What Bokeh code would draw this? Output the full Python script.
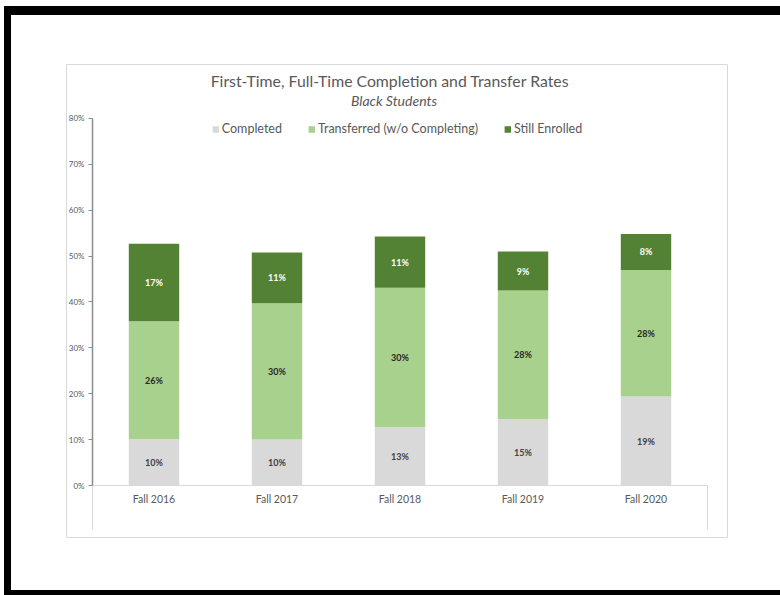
import numpy as np
from bokeh.plotting import figure
from bokeh.models import (Range1d, FixedTicker, Legend, LegendItem, Label, ColumnDataSource)
from bokeh.core.properties import value
from bokeh.embed import file_html
from bokeh.resources import INLINE

# ---------------- data ----------------
categories = ["Fall 2016", "Fall 2017", "Fall 2018", "Fall 2019", "Fall 2020"]
completed = [10.1, 10.0, 12.7, 14.5, 19.4]
transferred = [25.7, 29.7, 30.4, 28.0, 27.6]
still_enrolled = [16.9, 11.1, 11.2, 8.5, 7.8]
completed_labels = ["10%", "10%", "13%", "15%", "19%"]
transferred_labels = ["26%", "30%", "30%", "28%", "28%"]
still_labels = ["17%", "11%", "11%", "9%", "8%"]
series_names = ["Completed", "Transferred (w/o Completing)", "Still Enrolled"]
y_ticks = [0, 10, 20, 30, 40, 50, 60, 70, 80]
title_text = "First-Time, Full-Time Completion and Transfer Rates"
subtitle_text = "Black Students"

# ---------------- style ----------------
FONT = "Lato"
TXT = "#595959"
colors = ["#D9D9D9", "#A9D18E", "#548235"]
label_colors = ["#404040", "#262626", "#FFFFFF"]

n = len(categories)
x = np.arange(n) + 0.5
src = ColumnDataSource(dict(x=x, completed=completed, transferred=transferred,
                            still=still_enrolled))

# frame = the light grey chart box; axes are pinned inside it
p = figure(width=769, height=575, output_backend="svg", toolbar_location=None,
           x_range=Range1d(-0.2114, n + 0.1626), y_range=Range1d(-11.335, 91.77),
           min_border_left=55, min_border_right=60, min_border_top=49,
           min_border_bottom=67)
p.title = None
p.outline_line_color = "#D9D9D9"
p.outline_line_width = 1
p.xgrid.visible = False
p.ygrid.visible = False
p.background_fill_color = "white"
p.border_fill_color = "white"
p.styles = {"box-sizing": "content-box", "margin-top": "6px", "margin-left": "4px",
            "border-top": "9px solid black", "border-left": "7px solid black",
            "border-bottom": "5px solid black", "border-right": "0px"}

renderers = p.vbar_stack(["completed", "transferred", "still"], x="x", width=0.41,
                         color=colors, line_color=None, source=src)

# data labels, centered in each segment
bottoms = np.zeros(n)
for vals, labs, col in zip([completed, transferred, still_enrolled],
                           [completed_labels, transferred_labels, still_labels],
                           label_colors):
    vals = np.array(vals)
    p.text(x=x, y=bottoms + vals / 2, text=labs, text_align="center",
           text_baseline="middle", text_font=value(FONT), text_font_size="9px",
           text_font_style="bold", text_color=col)
    bottoms = bottoms + vals

# category separators below the axis (outer edges of the category axis)
p.segment(x0=[0, n], y0=[0, 0], x1=[0, n], y1=[-9.6, -9.6],
          line_color="#D9D9D9", line_width=1)

# y axis
ya = p.yaxis[0]
ya.fixed_location = 0
ya.bounds = (y_ticks[0], y_ticks[-1])
ya.ticker = FixedTicker(ticks=y_ticks)
ya.major_label_overrides = {t: f"{t}%" for t in y_ticks}
ya.major_label_text_font = FONT
ya.major_label_text_font_size = "8px"
ya.major_label_text_color = TXT
ya.axis_line_color = "#8C8C8C"
ya.axis_line_width = 1.5
ya.major_tick_line_color = "#8C8C8C"
ya.major_tick_out = 4
ya.major_tick_in = 0
ya.minor_tick_line_color = None
ya.major_label_standoff = 4

# x axis
xa = p.xaxis[0]
xa.fixed_location = 0
xa.bounds = (0, n)
xa.ticker = FixedTicker(ticks=list(x))
xa.major_label_overrides = {float(xi): c for xi, c in zip(x, categories)}
xa.major_label_text_font = FONT
xa.major_label_text_font_size = "10.5px"
xa.major_label_text_color = TXT
xa.axis_line_color = "#D9D9D9"
xa.major_tick_line_color = None
xa.major_tick_out = 0
xa.major_tick_in = 0
xa.minor_tick_line_color = None
xa.major_label_standoff = 7

# titles (inside the chart box)
p.add_layout(Label(x=n / 2, y=88.3, x_offset=-10, text=title_text, text_font=FONT,
                   text_font_size="15.8px", text_color=TXT, text_align="center",
                   text_baseline="middle"))
p.add_layout(Label(x=n / 2, y=83.9, x_offset=-6, text=subtitle_text, text_font=FONT,
                   text_font_size="14px", text_font_style="italic", text_color=TXT,
                   text_align="center", text_baseline="middle"))

# legend
items = [LegendItem(label=s, renderers=[r]) for s, r in zip(series_names, renderers)]
legend = Legend(items=items, orientation="horizontal", location="top_center",
                margin=57, padding=0, spacing=25, glyph_width=8, glyph_height=8,
                label_standoff=3, label_height=12,
                label_text_font=FONT, label_text_font_size="12.5px",
                label_text_color=TXT, border_line_color=None,
                background_fill_alpha=0)
p.add_layout(legend, "center")

open("out.html", "w").write(file_html(p, INLINE))
